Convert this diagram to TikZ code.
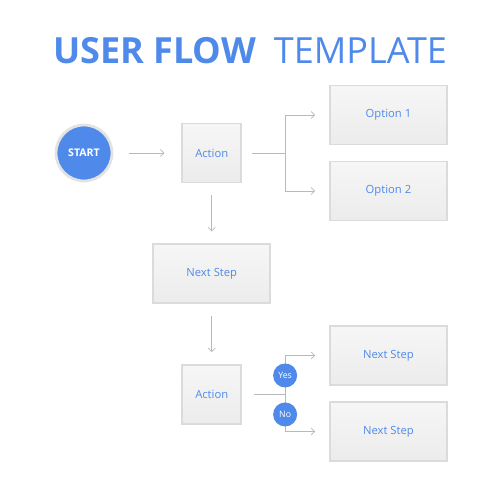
\documentclass[tikz,border=0pt]{standalone}
\usepackage{fontspec}
\setmainfont{Open Sans}
\usetikzlibrary{arrows.meta, positioning, calc}
\definecolor{flowblue}{HTML}{4F8AEB}

\begin{document}
\begin{tikzpicture}[
        x=0.02cm, y=-0.02cm,
        node distance=1.2cm and 1.36cm,
        box/.style={rectangle, draw=gray!28, line width=1pt, top color=gray!7, bottom color=gray!15, text=flowblue, font=\fontsize{6.4}{7.5}\selectfont, minimum width=2.34cm, minimum height=1.18cm},
        abox/.style={box, minimum width=1.18cm},
        startnode/.style={circle, fill=flowblue, draw=gray!22, line width=1.6pt, minimum size=1.12cm, text=white, font=\bfseries\fontsize{6}{7}\selectfont},
        tag/.style={circle, fill=flowblue, text=white, inner sep=0pt, minimum size=0.48cm, font=\fontsize{5}{6}\selectfont},
        link/.style={draw=gray!55, line width=0.4pt},
        arrow/.style={link, -{Straight Barb[length=2pt, width=4pt]}}
    ]
    \useasboundingbox (0,0) rectangle (500,500);

    % Title
    \node[text=flowblue, font=\fontsize{20.5}{24}\selectfont] (title) at (250,51) {\textbf{USER FLOW}\enspace TEMPLATE};

    % Nodes
    \node[startnode] (start) at (84,153) {START};
    \node[abox, right=of start] (action) {Action};
    \node[box, right=1.74cm of action, yshift=0.76cm] (opt1) {Option 1};
    \node[box, right=1.74cm of action, yshift=-0.76cm] (opt2) {Option 2};
    \node[box, below=of action] (next) {Next Step};
    \node[abox, below=of next] (action2) {Action};
    \node[box, right=1.74cm of action2, yshift=0.78cm] (yesstep) {Next Step};
    \node[box, right=1.74cm of action2, yshift=-0.74cm] (nostep) {Next Step};

    % Forks
    \coordinate (fork1) at ($(action.east)+(0.86cm,0)$);
    \coordinate (fork2) at ($(action2.east)+(0.86cm,0)$);

    % Edges
    \draw[arrow, shorten <=0.32cm, shorten >=0.34cm] (start) -- (action);
    \draw[link, shorten <=0.2cm] (action) -- (fork1);
    \draw[arrow, shorten >=0.28cm] (fork1) |- (opt1.west);
    \draw[arrow, shorten >=0.28cm] (fork1) |- (opt2.west);
    \draw[arrow, shorten <=0.24cm, shorten >=0.24cm] (action) -- (next);
    \draw[arrow, shorten <=0.24cm, shorten >=0.24cm] (next) -- (action2);
    \draw[link, shorten <=0.24cm] (action2) -- (fork2);
    \draw[arrow, shorten >=0.28cm] (fork2) |- (yesstep.west);
    \draw[arrow, shorten >=0.28cm] (fork2) |- (nostep.west);

    % Yes / No tags
    \node[tag] (yes) at ($(fork2)+(0,0.38cm)$) {Yes};
    \node[tag] (no) at ($(fork2)+(0,-0.4cm)$) {No};
\end{tikzpicture}
\end{document}
